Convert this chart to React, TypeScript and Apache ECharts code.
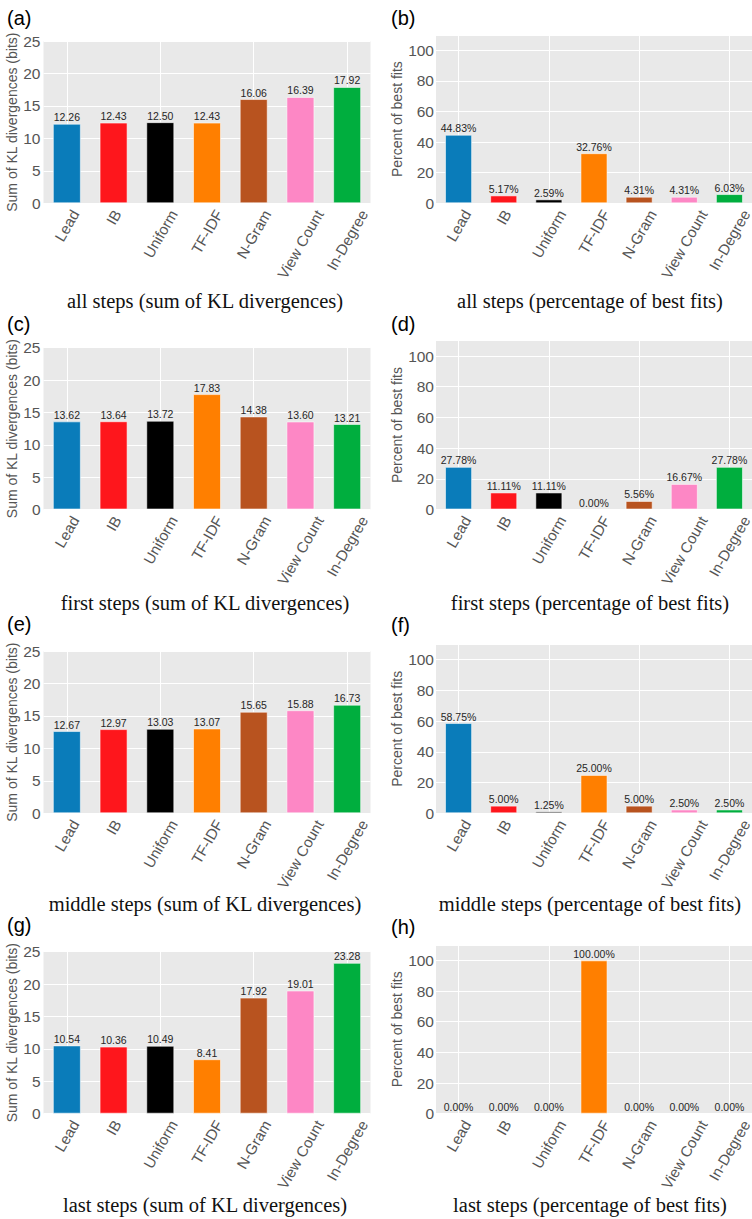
import React, { useEffect, useRef } from 'react';
import * as echarts from 'echarts';

// ---------- data ----------
const CATEGORIES = ['Lead', 'IB', 'Uniform', 'TF-IDF', 'N-Gram', 'View Count', 'In-Degree'];
const BAR_COLORS = ['#0a7cba', '#fe161c', '#000000', '#ff7f00', '#b8531f', '#fd87c5', '#00ae3e'];

const KL_ALL = [12.26, 12.43, 12.5, 12.43, 16.06, 16.39, 17.92];
const KL_FIRST = [13.62, 13.64, 13.72, 17.83, 14.38, 13.6, 13.21];
const KL_MIDDLE = [12.67, 12.97, 13.03, 13.07, 15.65, 15.88, 16.73];
const KL_LAST = [10.54, 10.36, 10.49, 8.41, 17.92, 19.01, 23.28];

const PCT_ALL = [44.83, 5.17, 2.59, 32.76, 4.31, 4.31, 6.03];
const PCT_FIRST = [27.78, 11.11, 11.11, 0.0, 5.56, 16.67, 27.78];
const PCT_MIDDLE = [58.75, 5.0, 1.25, 25.0, 5.0, 2.5, 2.5];
const PCT_LAST = [0.0, 0.0, 0.0, 100.0, 0.0, 0.0, 0.0];

const KL_AXIS = { min: 0, max: 25, interval: 5 };
const PCT_AXIS = { min: 0, max: 110, interval: 20, lastLabel: 100 };

const KL_NAME = 'Sum of KL divergences (bits)';
const PCT_NAME = 'Percent of best fits';

const TITLES_LEFT = [
  'all steps (sum of KL divergences)',
  'first steps (sum of KL divergences)',
  'middle steps (sum of KL divergences)',
  'last steps (sum of KL divergences)',
];
const TITLES_RIGHT = [
  'all steps (percentage of best fits)',
  'first steps (percentage of best fits)',
  'middle steps (percentage of best fits)',
  'last steps (percentage of best fits)',
];
const LABELS_LEFT = ['(a)', '(c)', '(e)', '(g)'];
const LABELS_RIGHT = ['(b)', '(d)', '(f)', '(h)'];

const KL_ROWS = [KL_ALL, KL_FIRST, KL_MIDDLE, KL_LAST];
const PCT_ROWS = [PCT_ALL, PCT_FIRST, PCT_MIDDLE, PCT_LAST];

// ---------- layout ----------
const W = 752;
const H = 1219;
const LEFT_X = 43.5;
const LEFT_W = 327;
const RIGHT_X = 436;
const RIGHT_W = 316;
const ROW_BOTTOM = [203.3, 509.5, 813.3, 1113.7];
const KL_TOP = [41, 347.7, 651, 951.7];
const PCT_TOP = [35, 340.7, 644.3, 945];
const TITLE_Y = [301, 602.5, 903.5, 1205];
const TITLE_X_LEFT = 205;
const TITLE_X_RIGHT = 590;
const PLABEL_Y_LEFT = [17.5, 323.5, 624, 925];
const PLABEL_Y_RIGHT = [17.5, 324, 625, 927];
const PLABEL_X_LEFT = 7;
const PLABEL_X_RIGHT = 391;

const SANS = '"Liberation Sans", Arial, Helvetica, sans-serif';
const SERIF = '"Liberation Serif", "Times New Roman", serif';
const GRAY = '#555555';
const PLOT_BG = '#e9e9e9';
const XL_FONT = 15;
const XL_ROT = Math.PI / 3;
const XL_PAD = 4;

export default function App() {
  const ref = useRef<HTMLDivElement>(null);

  useEffect(() => {
    if (!ref.current) return;
    const chart = echarts.init(ref.current, null, { renderer: 'svg' });

    const grids: any[] = [];
    const xAxes: any[] = [];
    const yAxes: any[] = [];
    const series: any[] = [];

    const addPanel = (
      values: number[],
      left: number,
      width: number,
      top: number,
      bottom: number,
      kind: 'kl' | 'pct'
    ) => {
      const idx = grids.length;
      const height = bottom - top;
      grids.push({
        left,
        top,
        width,
        height,
        show: true,
        backgroundColor: PLOT_BG,
        borderWidth: 0,
        containLabel: false,
        outerBoundsMode: 'none',
      });
      xAxes.push({
        type: 'category',
        gridIndex: idx,
        data: CATEGORIES,
        boundaryGap: true,
        axisLine: { show: false },
        axisLabel: { show: false },
        axisTick: {
          show: true,
          alignWithLabel: true,
          inside: true,
          length: height,
          lineStyle: { color: '#ffffff', width: 1 },
        },
        splitLine: { show: false },
      });
      const ax = kind === 'kl' ? KL_AXIS : PCT_AXIS;
      yAxes.push({
        type: 'value',
        gridIndex: idx,
        min: ax.min,
        max: ax.max,
        interval: ax.interval,
        name: kind === 'kl' ? KL_NAME : PCT_NAME,
        nameLocation: 'middle',
        nameGap: kind === 'kl' ? 23 : 30,
        nameTextStyle: { color: GRAY, fontSize: 14, fontFamily: SANS },
        axisLine: { show: false },
        axisTick: { show: false },
        axisLabel: {
          color: GRAY,
          fontSize: 15.5,
          fontFamily: SANS,
          margin: kind === 'kl' ? 3 : 2,
          formatter: (v: number) =>
            kind === 'pct' && v > (PCT_AXIS.lastLabel as number) ? '' : String(v),
        },
        splitLine: { show: true, lineStyle: { color: '#ffffff', width: 1 } },
      });
      series.push({
        type: 'bar',
        xAxisIndex: idx,
        yAxisIndex: idx,
        barWidth: '60%',
        z: 3,
        data: values.map((v, i) => ({
          value: v,
          itemStyle: {
            color: BAR_COLORS[i],
            borderColor: 'rgba(255,255,255,0.55)',
            borderWidth: 1,
          },
        })),
        label: {
          show: true,
          position: 'top',
          distance: 1,
          fontSize: 10.5,
          fontFamily: SANS,
          color: '#262626',
          formatter: (p: any) =>
            kind === 'kl' ? Number(p.value).toFixed(2) : Number(p.value).toFixed(2) + '%',
        },
      });
    };

    for (let r = 0; r < 4; r++) {
      addPanel(KL_ROWS[r], LEFT_X, LEFT_W, KL_TOP[r], ROW_BOTTOM[r], 'kl');
      addPanel(PCT_ROWS[r], RIGHT_X, RIGHT_W, PCT_TOP[r], ROW_BOTTOM[r], 'pct');
    }

    chart.setOption({
      animation: false,
      backgroundColor: '#ffffff',
      textStyle: { fontFamily: SANS },
      grid: grids,
      xAxis: xAxes,
      yAxis: yAxes,
      series,
    });

    // auxiliary texts: rotated category labels, titles, panel letters
    const canvas = document.createElement('canvas');
    const ctx = canvas.getContext('2d');
    const measure = (t: string) => {
      if (!ctx) return t.length * XL_FONT * 0.55;
      ctx.font = `${XL_FONT}px ${SANS}`;
      return ctx.measureText(t).width;
    };

    const graphics: any[] = [];
    grids.forEach((_, k) => {
      CATEGORIES.forEach((c, i) => {
        const pt = chart.convertToPixel({ gridIndex: k } as any, [i, 0]) as number[];
        if (!pt) return;
        const w = measure(c);
        const bboxH = w * Math.sin(XL_ROT) + XL_FONT * Math.cos(XL_ROT);
        graphics.push({
          type: 'text',
          x: pt[0],
          y: pt[1] + XL_PAD + bboxH / 2,
          rotation: XL_ROT,
          silent: true,
          style: {
            text: c,
            fill: GRAY,
            font: `${XL_FONT}px ${SANS}`,
            align: 'center',
            verticalAlign: 'middle',
            textAlign: 'center',
            textVerticalAlign: 'middle',
          },
        });
      });
    });

    for (let r = 0; r < 4; r++) {
      [
        { t: TITLES_LEFT[r], x: TITLE_X_LEFT },
        { t: TITLES_RIGHT[r], x: TITLE_X_RIGHT },
      ].forEach((o) =>
        graphics.push({
          type: 'text',
          x: o.x,
          y: TITLE_Y[r],
          silent: true,
          style: {
            text: o.t,
            fill: '#111111',
            font: `20.5px ${SERIF}`,
            align: 'center',
            verticalAlign: 'middle',
            textAlign: 'center',
            textVerticalAlign: 'middle',
          },
        })
      );
      [
        { t: LABELS_LEFT[r], x: PLABEL_X_LEFT, y: PLABEL_Y_LEFT[r] },
        { t: LABELS_RIGHT[r], x: PLABEL_X_RIGHT, y: PLABEL_Y_RIGHT[r] },
      ].forEach((o) =>
        graphics.push({
          type: 'text',
          x: o.x,
          y: o.y,
          silent: true,
          style: {
            text: o.t,
            fill: '#000000',
            font: `20px ${SANS}`,
            align: 'left',
            verticalAlign: 'middle',
            textAlign: 'left',
            textVerticalAlign: 'middle',
          },
        })
      );
    }

    chart.setOption({ graphic: graphics });

    return () => {
      chart.dispose();
    };
  }, []);

  return (
    <div
      ref={ref}
      style={{ position: 'absolute', left: 0, top: 0, width: W, height: H, background: '#fff' }}
    />
  );
}
